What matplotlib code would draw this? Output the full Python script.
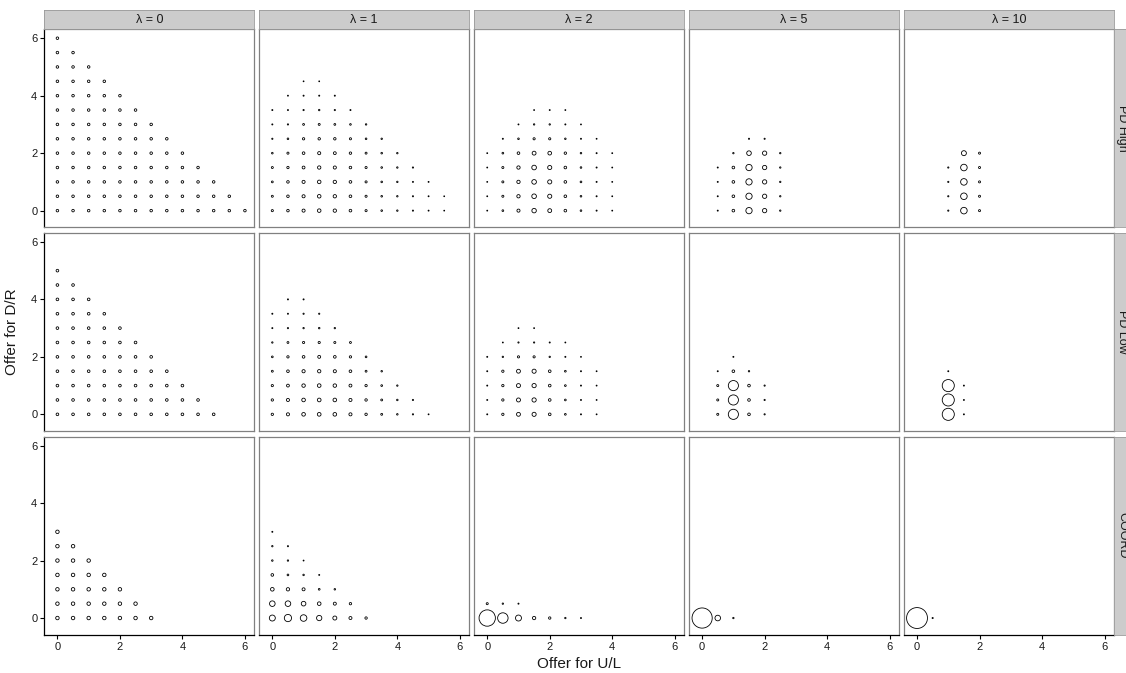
import matplotlib
matplotlib.use("Agg")
import matplotlib.pyplot as plt
import numpy as np

plt.rcParams["font.family"] = ["Liberation Sans", "DejaVu Sans"]

lambdas = [0, 1, 2, 5, 10]
treatments = ["PD High", "PD Low", "COORD"]
offer_step = 0.5
axis_ticks = [0, 2, 4, 6]

# share of offers (%) at each grid point
# one row per D/R offer (0, 0.5, 1, ...), one entry per U/L offer (0, 0.5, 1, ...); 0 = no point

################## PD High ##################
pd_high_l0 = [
    [0.9, 0.9, 0.9, 0.9, 0.9, 0.9, 0.9, 0.9, 0.9, 0.9, 0.9, 0.9, 0.9],
    [0.9, 0.9, 0.9, 0.9, 0.9, 0.9, 0.9, 0.9, 0.9, 0.9, 0.9, 0.9],
    [0.9, 0.9, 0.9, 0.9, 0.9, 0.9, 0.9, 0.9, 0.9, 0.9, 0.9],
    [0.9, 0.9, 0.9, 0.9, 0.9, 0.9, 0.9, 0.9, 0.9, 0.9],
    [0.9, 0.9, 0.9, 0.9, 0.9, 0.9, 0.9, 0.9, 0.9],
    [0.9, 0.9, 0.9, 0.9, 0.9, 0.9, 0.9, 0.9],
    [0.9, 0.9, 0.9, 0.9, 0.9, 0.9, 0.9],
    [0.9, 0.9, 0.9, 0.9, 0.9, 0.9],
    [0.9, 0.9, 0.9, 0.9, 0.9],
    [0.9, 0.9, 0.9, 0.9],
    [0.9, 0.9, 0.9],
    [0.9, 0.9],
    [0.9],
]
pd_high_l1 = [
    [0.55, 0.9, 1.5, 2.1, 1.8, 1.0, 0.55, 0.25, 0.17, 0.08, 0.04, 0.02],
    [0.45, 0.9, 1.5, 2.1, 1.8, 1.0, 0.55, 0.25, 0.17, 0.08, 0.04, 0.02],
    [0.35, 0.9, 1.5, 2.1, 1.8, 1.0, 0.55, 0.25, 0.17, 0.06, 0.04],
    [0.45, 0.7, 1.2, 1.8, 1.5, 0.9, 0.55, 0.25, 0.17, 0.1],
    [0.25, 0.55, 1.0, 1.5, 1.2, 0.8, 0.45, 0.25, 0.17],
    [0.1, 0.25, 0.7, 0.8, 0.8, 0.55, 0.25, 0.17],
    [0.06, 0.1, 0.35, 0.45, 0.35, 0.25, 0.17],
    [0.06, 0.06, 0.1, 0.17, 0.1, 0.06],
    [0, 0.04, 0.06, 0.06, 0.06],
    [0, 0, 0.02, 0.02],
]
pd_high_l2 = [
    [0.03, 0.3, 1.5, 3.6, 2.6, 1.0, 0.25, 0.06, 0.03],
    [0.03, 0.5, 1.8, 3.9, 3.0, 1.0, 0.25, 0.06, 0.03],
    [0.03, 0.5, 1.8, 3.9, 3.0, 1.0, 0.3, 0.06, 0.03],
    [0.03, 0.5, 1.8, 3.9, 3.0, 1.0, 0.25, 0.06, 0.03],
    [0.03, 0.3, 1.0, 2.6, 2.3, 0.8, 0.2, 0.06, 0.03],
    [0, 0.06, 0.25, 0.6, 0.6, 0.2, 0.06, 0.03],
    [0, 0, 0.04, 0.15, 0.15, 0.06, 0.03],
    [0, 0, 0, 0.03, 0.04, 0.03],
]
pd_high_l5 = [
    [0, 0.05, 1.0, 7.8, 3.3, 0.15],
    [0, 0.05, 1.0, 7.8, 3.3, 0.15],
    [0, 0.05, 1.0, 7.8, 3.3, 0.15],
    [0, 0.05, 1.0, 7.8, 3.3, 0.15],
    [0, 0, 0.15, 3.9, 3.3, 0.15],
    [0, 0, 0, 0.08, 0.08],
]
pd_high_l10 = [
    [0, 0, 0.1, 8.6, 0.5],
    [0, 0, 0.1, 8.6, 0.5],
    [0, 0, 0.1, 8.6, 0.5],
    [0, 0, 0.1, 8.6, 0.5],
    [0, 0, 0, 4.6, 0.5],
]

################## PD Low ##################
pd_low_l0 = [
    [1.0, 1.0, 1.0, 1.0, 1.0, 1.0, 1.0, 1.0, 1.0, 1.0, 1.0],
    [1.0, 1.0, 1.0, 1.0, 1.0, 1.0, 1.0, 1.0, 1.0, 1.0],
    [1.0, 1.0, 1.0, 1.0, 1.0, 1.0, 1.0, 1.0, 1.0],
    [1.0, 1.0, 1.0, 1.0, 1.0, 1.0, 1.0, 1.0],
    [1.0, 1.0, 1.0, 1.0, 1.0, 1.0, 1.0],
    [1.0, 1.0, 1.0, 1.0, 1.0, 1.0],
    [1.0, 1.0, 1.0, 1.0, 1.0],
    [1.0, 1.0, 1.0, 1.0],
    [1.0, 1.0, 1.0],
    [1.0, 1.0],
    [1.0],
]
pd_low_l1 = [
    [0.7, 1.5, 2.2, 2.3, 2.2, 1.5, 0.8, 0.4, 0.2, 0.1, 0.03],
    [0.7, 1.5, 2.2, 2.3, 2.2, 1.5, 0.8, 0.4, 0.2, 0.1],
    [0.6, 1.2, 2.0, 2.2, 2.0, 1.3, 0.7, 0.3, 0.15],
    [0.4, 1.0, 1.6, 1.8, 1.5, 1.0, 0.4, 0.2],
    [0.3, 0.7, 1.0, 1.3, 1.0, 0.7, 0.3],
    [0.15, 0.4, 0.6, 0.6, 0.5, 0.4],
    [0.06, 0.1, 0.15, 0.2, 0.15],
    [0.06, 0.06, 0.1, 0.1],
    [0, 0.06, 0.06],
]
pd_low_l2 = [
    [0.05, 0.7, 2.6, 3.0, 1.0, 0.3, 0.06, 0.03],
    [0.05, 0.7, 2.8, 3.2, 1.0, 0.3, 0.06, 0.03],
    [0.05, 0.7, 2.8, 3.2, 1.0, 0.3, 0.06, 0.03],
    [0.05, 0.7, 2.6, 3.0, 1.0, 0.3, 0.06, 0.03],
    [0.05, 0.15, 0.6, 0.6, 0.15, 0.06, 0.03],
    [0, 0.03, 0.1, 0.1, 0.06, 0.03],
    [0, 0, 0.03, 0.03],
]
pd_low_l5 = [
    [0, 0.5, 22.0, 1.0, 0.1],
    [0, 0.5, 22.0, 1.0, 0.1],
    [0, 0.5, 22.0, 1.0, 0.1],
    [0, 0.05, 1.0, 0.15],
    [0, 0, 0.05],
]
pd_low_l10 = [
    [0, 0, 32.0, 0.05],
    [0, 0, 32.0, 0.05],
    [0, 0, 32.0, 0.05],
    [0, 0, 0.05],
]

################## COORD ##################
coord_l0 = [
    [2.0, 2.0, 2.0, 2.0, 2.0, 2.0, 2.0],
    [2.0, 2.0, 2.0, 2.0, 2.0, 2.0],
    [2.0, 2.0, 2.0, 2.0, 2.0],
    [2.0, 2.0, 2.0, 2.0],
    [2.0, 2.0, 2.0],
    [2.0, 2.0],
    [2.0],
]
coord_l1 = [
    [7.0, 10.7, 8.6, 5.3, 2.8, 1.4, 0.75],
    [6.0, 6.0, 3.9, 2.2, 1.4, 0.75],
    [2.2, 1.8, 1.4, 0.3, 0.2],
    [1.0, 0.3, 0.2, 0.05],
    [0.2, 0.15, 0.03],
    [0.15, 0.08],
    [0.05],
]
coord_l2 = [
    [60.0, 23.6, 7.0, 1.8, 0.75, 0.15, 0.06],
    [0.5, 0.15, 0.06],
]
coord_l5 = [
    [93.0, 6.0, 0.15],
]
coord_l10 = [
    [100.0, 0.08],
]

panel_shares = [
    [pd_high_l0, pd_high_l1, pd_high_l2, pd_high_l5, pd_high_l10],
    [pd_low_l0, pd_low_l1, pd_low_l2, pd_low_l5, pd_low_l10],
    [coord_l0, coord_l1, coord_l2, coord_l5, coord_l10],
]


def marker_area(share):
    # diameter grows with sqrt of the share (like ggplot's area scale)
    d_px = 0.6 + 20.3 * np.sqrt(np.asarray(share) / 100.0)
    return (d_px * 72.0 / 100.0) ** 2


################## Layout (pixels) ##################
W, H = 1126, 673
left0, panel_w, col_gap = 44.3, 210.0, 4.9
top0, panel_h, row_gap = 29.3, 198.0, 5.7
strip_h = 19.3
strip_w = 16.0
border_grey = "#808080"
strip_fill = "#cccccc"
text_col = "#1a1a1a"


def fig_rect(x, y, w, h):
    return [x / W, 1 - (y + h) / H, w / W, h / H]


fig = plt.figure(figsize=(W / 100, H / 100), dpi=100)

for r, treat in enumerate(treatments):
    for c, lam in enumerate(lambdas):
        x0 = left0 + c * (panel_w + col_gap)
        y0 = top0 + r * (panel_h + row_gap)
        ax = fig.add_axes(fig_rect(x0, y0, panel_w, panel_h))

        xs, ys, vs = [], [], []
        for i, row in enumerate(panel_shares[r][c]):
            for j, v in enumerate(row):
                if v > 0:
                    xs.append(j * offer_step)
                    ys.append(i * offer_step)
                    vs.append(v)
        ax.scatter(xs, ys, s=marker_area(vs), facecolors="none",
                   edgecolors="black", linewidths=0.6, clip_on=False)

        ax.set_xlim(-0.42, 6.30)
        ax.set_ylim(-0.58, 6.31)
        ax.set_xticks(axis_ticks)
        ax.set_yticks(axis_ticks)
        for sp in ax.spines.values():
            sp.set_color(border_grey)
            sp.set_linewidth(0.9)
        ax.tick_params(length=3, width=0.8, color="black", labelsize=8,
                       labelcolor=text_col, pad=2)

        if r == len(treatments) - 1:
            ax.spines["bottom"].set_color("black")
        else:
            ax.tick_params(axis="x", length=0, labelbottom=False)
        if c == 0:
            ax.spines["left"].set_color("black")
        else:
            ax.tick_params(axis="y", length=0, labelleft=False)

        # column strip
        if r == 0:
            sax = fig.add_axes(fig_rect(x0, top0 - strip_h, panel_w, strip_h))
            sax.set_facecolor(strip_fill)
            sax.set_xticks([])
            sax.set_yticks([])
            for sp in sax.spines.values():
                sp.set_color("#999999")
                sp.set_linewidth(0.6)
            sax.text(0.5, 0.5, f"\u03bb = {lam}", ha="center", va="center",
                     fontsize=9, color=text_col, transform=sax.transAxes)

        # row strip (cut by the right edge, as in the original)
        if c == len(lambdas) - 1:
            rax = fig.add_axes(fig_rect(x0 + panel_w + 0.5, y0, strip_w, panel_h))
            rax.set_facecolor(strip_fill)
            rax.set_xticks([])
            rax.set_yticks([])
            for sp in rax.spines.values():
                sp.set_color("#999999")
                sp.set_linewidth(0.6)
            rax.text(0.5, 0.5, treat, ha="center", va="center", rotation=270,
                     fontsize=9, color=text_col, transform=rax.transAxes)

fig.text(578.8 / W, 1 - 664 / H, "Offer for U/L", ha="center", va="center",
         fontsize=11, color=text_col)
fig.text(12 / W, 1 - 332 / H, "Offer for D/R", ha="center", va="center",
         rotation=90, fontsize=11, color=text_col)

fig.savefig("out.png", dpi=100)
